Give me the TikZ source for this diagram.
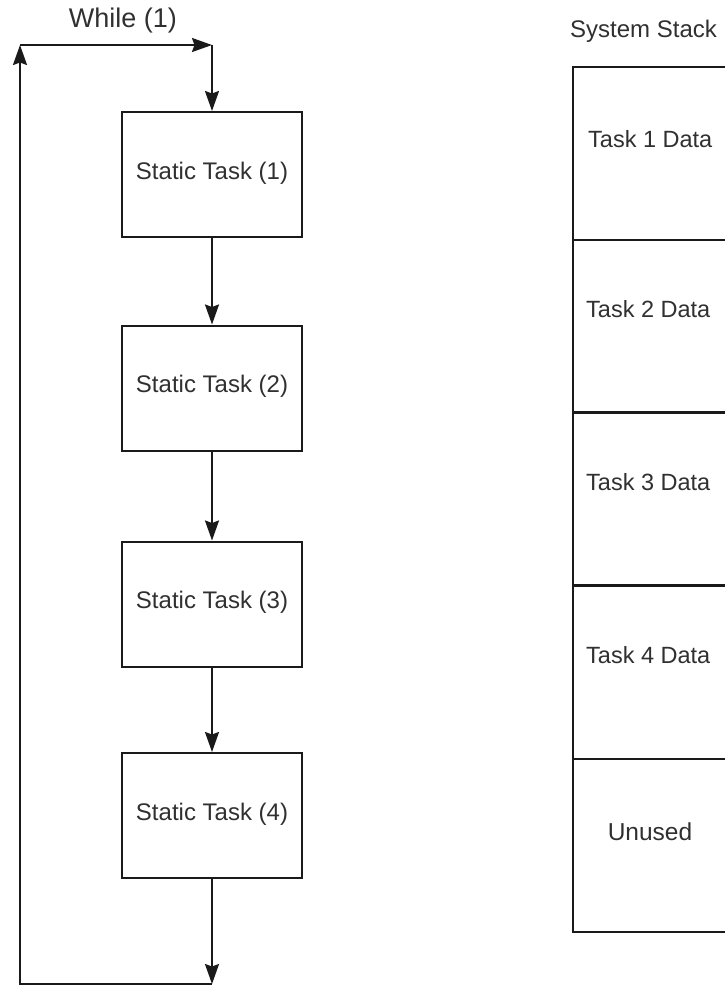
\documentclass[tikz,border=0pt]{standalone}
\usepackage{fontspec}
\setmainfont{Liberation Sans}
\usetikzlibrary{arrows.meta}
\definecolor{ink}{HTML}{1A1A1A}
\definecolor{txt}{HTML}{303030}
\begin{document}
\begin{tikzpicture}[x=1pt,y=-1pt,
  ln/.style={draw=ink,line width=2pt},
  arr/.style={ln,-{Stealth[length=20pt,width=14pt,inset=2.5pt]}},
  taskbox/.style={ln,rectangle,minimum width=180pt,minimum height=125pt,inner sep=0pt,
    font=\fontsize{24}{27}\selectfont,text=txt},
  cell/.style={ln,rectangle,minimum width=200pt,minimum height=173pt,inner sep=0pt,anchor=north west},
  celltext/.style={font=\fontsize{23.5}{27}\selectfont,text=txt,inner sep=0pt}]
\useasboundingbox (0,0) rectangle (725,991);
\clip (0,0) rectangle (725,991);
% flow chart
\node[taskbox] (b1) at (212,174.5) {\raisebox{8pt}{Static Task (1)}};
\node[taskbox] (b2) at (212,388) {\raisebox{8pt}{Static Task (2)}};
\node[taskbox] (b3) at (212,604) {\raisebox{8pt}{Static Task (3)}};
\node[taskbox] (b4) at (212,815.5) {\raisebox{8pt}{Static Task (4)}};
\coordinate (tr) at (212,45);
\coordinate (tl) at (20,45);
\coordinate (bl) at (20,984);
\coordinate (br) at (212,984);
\node[font=\fontsize{27}{31}\selectfont,text=txt,inner sep=0pt] (while) at (123,21) {While (1)};
\draw[arr] (b1) -- (b2);
\draw[arr] (b2) -- (b3);
\draw[arr] (b3) -- (b4);
\draw[arr] (b4) -- (br);
\draw[arr] (br) -- (bl) -- (tl);
\draw[arr] (tl) -- (tr);
\draw[arr] (tr) -- (b1);
% system stack
\node[font=\fontsize{24}{27}\selectfont,text=txt,inner sep=0pt,anchor=west] (title) at (570,31) {System Stack};
\node[cell] (c1) at (572,66) {};
\node[cell] (c2) at (572,239) {};
\node[cell] (c3) at (572,412) {};
\node[cell] (c4) at (572,585) {};
\node[cell] (c5) at (572,758) {};
\draw[ink,line width=3pt] (c3.north west) -- (c3.north east);
\draw[ink,line width=3pt] (c4.north west) -- (c4.north east);
\node[celltext,anchor=west] (t1) at (588,139) {Task 1 Data};
\node[celltext,anchor=west] (t2) at (586,309) {Task 2 Data};
\node[celltext,anchor=west] (t3) at (586,482) {Task 3 Data};
\node[celltext,anchor=west] (t4) at (586,655) {Task 4 Data};
\node[celltext,font=\fontsize{24.5}{28}\selectfont] (t5) at (650,832) {Unused};
\end{tikzpicture}
\end{document}
